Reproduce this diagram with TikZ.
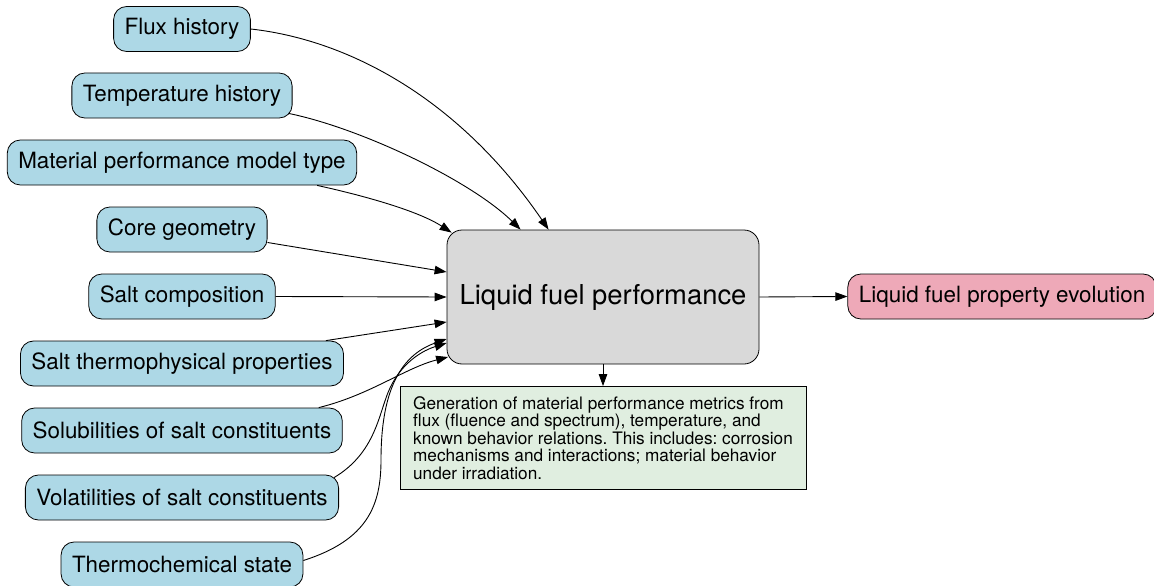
\documentclass[tikz,border=0pt]{standalone}
\usepackage{fontspec}
\setmainfont{TeX Gyre Heros}
\usetikzlibrary{arrows.meta}
\definecolor{inbox}{HTML}{ADD8E6}
\definecolor{corebox}{HTML}{D9D9D9}
\definecolor{notebox}{HTML}{E0EEE0}
\definecolor{outbox}{HTML}{EEA9B8}
\begin{document}
\frenchspacing
\begin{tikzpicture}[x=1pt,y=-1pt,
  inputbox/.style={draw, line width=0.8pt, rounded corners=13pt, fill=inbox,
    minimum height=45pt, inner xsep=11pt, font=\fontsize{22.4}{26}\selectfont},
  outputbox/.style={inputbox, fill=outbox},
  corebox/.style={draw, line width=0.8pt, rounded corners=15pt, fill=corebox,
    minimum width=312pt, minimum height=134pt, font=\fontsize{27.4}{32}\selectfont},
  notebox/.style={draw, line width=0.8pt, fill=notebox, minimum width=406pt,
    minimum height=103pt, align=left,
    font=\fontsize{17.2}{17.6}\selectfont},
  edge/.style={draw, line width=0.9pt, -{Triangle[length=12pt,width=8.5pt]}}
]
\useasboundingbox (0,0) rectangle (1154,586);

% inputs
\node[inputbox] (flux)    at (182,29)  {Flux history};
\node[inputbox] (temp)    at (182,95.5)  {Temperature history};
\node[inputbox] (model)   at (182,162.5) {Material performance model type};
\node[inputbox] (geom)    at (182,229.5) {Core geometry};
\node[inputbox] (salt)    at (182,296.5) {Salt composition};
\node[inputbox] (thermo)  at (182,363.5) {Salt thermophysical properties};
\node[inputbox] (solub)   at (182,430.5) {Solubilities of salt constituents};
\node[inputbox] (volat)   at (182,497.5) {Volatilities of salt constituents};
\node[inputbox] (tstate)  at (182,564.5) {Thermochemical state};

% process, output and description
\node[corebox] (main) at (603,297) {Liquid fuel performance};
\node[outputbox] (out) at (1002,296.5) {Liquid fuel property evolution};
\node[notebox] (note) at (603,438) {Generation of material performance metrics from\\
flux (fluence and spectrum), temperature, and\\
known behavior relations. This includes: corrosion\\
mechanisms and interactions; material behavior\\
under irradiation.};

% connectors into the process
\draw[edge] (flux.east) .. controls (350,40) and (460,100) .. ([xshift=102pt]main.north west);
\draw[edge] ([xshift=-4pt,yshift=5pt]temp.south east) .. controls (360,128) and (470,180) .. ([xshift=74pt]main.north west);
\draw[edge] ([xshift=-40pt]model.south east) .. controls (370,197) and (420,212) .. ([xshift=5pt,yshift=-3pt]main.north west);
\draw[edge] ([yshift=-13pt]geom.east) -- ([yshift=25pt]main.west);
\draw[edge] (salt.east) -- (main.west);
\draw[edge] ([xshift=-18pt]thermo.north east) -- ([yshift=-25pt]main.west);
\draw[edge] ([xshift=-24pt]solub.north east) .. controls (370,395) and (405,368) .. ([xshift=1.5pt,yshift=-60pt]main.west);
\draw[edge] ([xshift=-5pt,yshift=-3pt]volat.north east) .. controls (372,455) and (378,420) .. (386,398) .. controls (396,368) and (418,352) .. ([yshift=-46pt]main.west);
\draw[edge] ([yshift=4pt]tstate.east) .. controls (368,540) and (381,505) .. (381,460) .. controls (381,395) and (398,356) .. ([yshift=-42pt]main.west);

% process outputs
\draw[edge] (main.south) -- (note.north);
\draw[edge] (main.east) -- (out.west);
\end{tikzpicture}
\end{document}
